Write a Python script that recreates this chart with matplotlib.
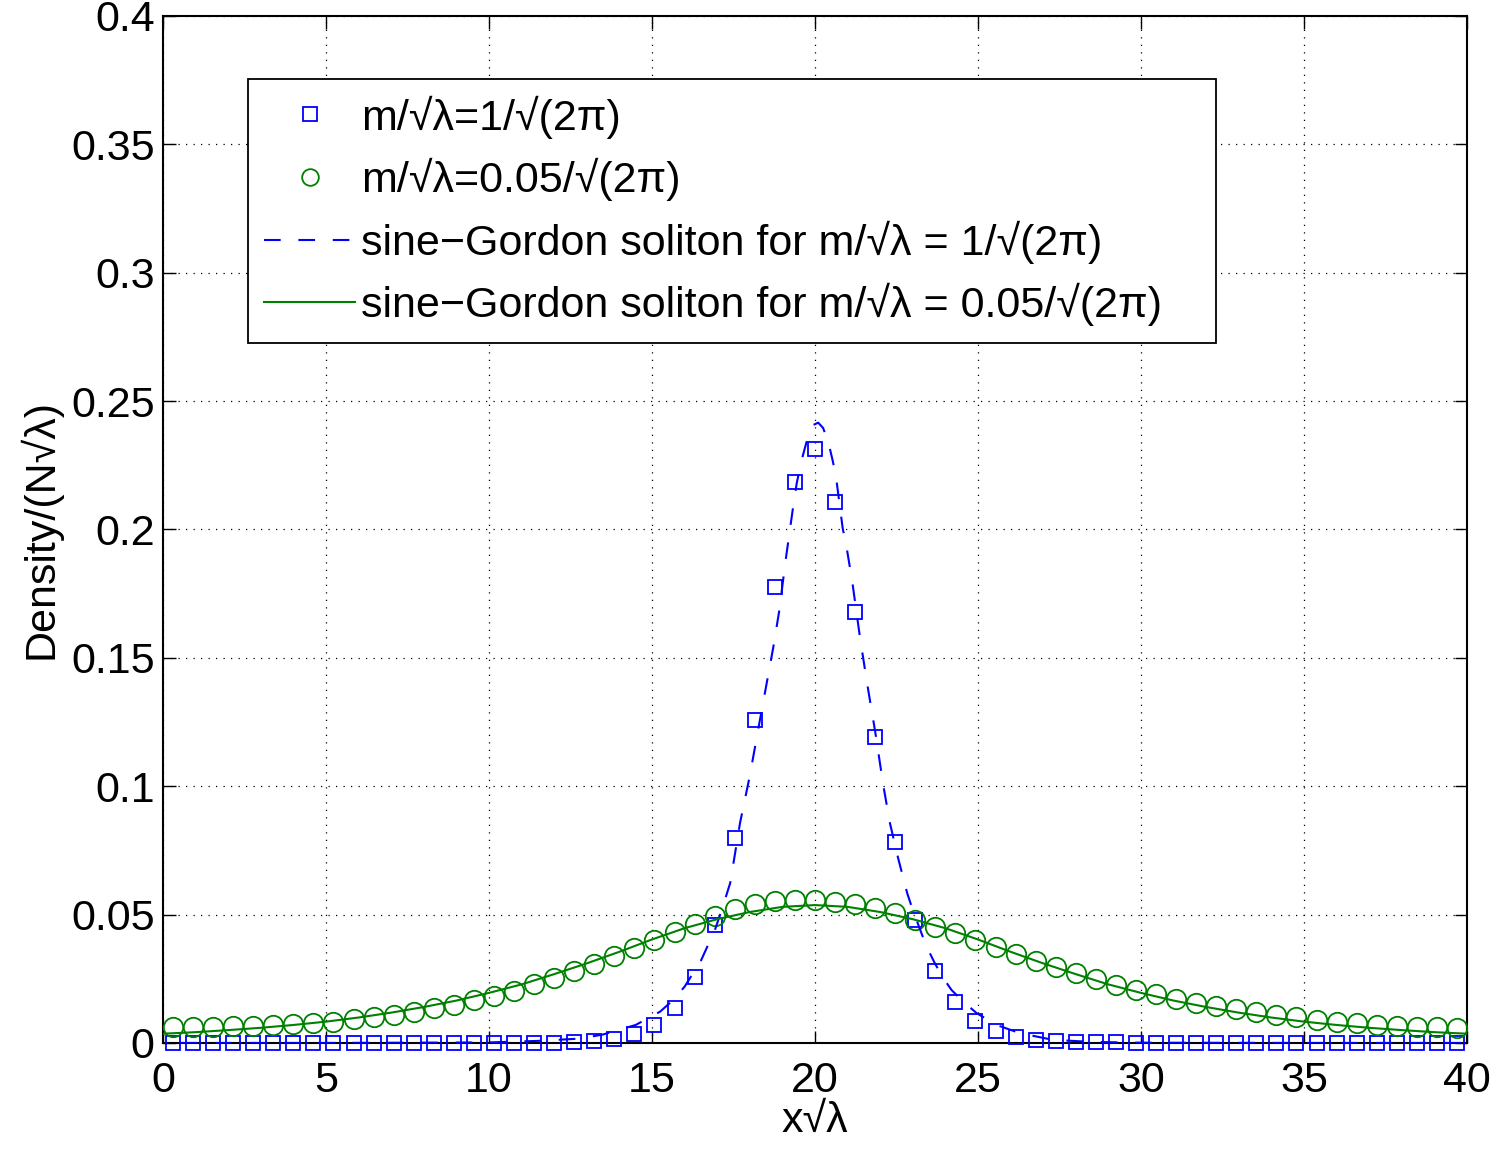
import numpy as np
import matplotlib
matplotlib.use("Agg")
import matplotlib.pyplot as plt

plt.rcParams['font.family'] = ['Liberation Sans', 'DejaVu Sans']
plt.rcParams['axes.unicode_minus'] = False

# lattice sites (65 points on [0, 40])
n_sites = 65
site_x = (np.arange(n_sites) + 0.5) * 40.0 / n_sites

# m/sqrt(lambda) = 1/sqrt(2 pi): lattice density (squares)
dens_strong = [0.0] * 20 + [
    0.0005, 0.0009, 0.0016, 0.0036, 0.0070, 0.0135, 0.0256, 0.0461,
    0.0797, 0.1258, 0.1776, 0.2185, 0.2314, 0.2107, 0.1679, 0.1192,
    0.0781, 0.0480, 0.0282, 0.0158, 0.0085, 0.0046, 0.0023, 0.0012,
    0.0008, 0.0005, 0.0003, 0.0002] + [0.0] * 17

# m/sqrt(lambda) = 0.05/sqrt(2 pi): lattice density (circles)
dens_weak = [
    0.0064, 0.0064, 0.0064, 0.0065, 0.0066, 0.0070, 0.0073, 0.0077,
    0.0083, 0.0092, 0.0100, 0.0109, 0.0122, 0.0135, 0.0148, 0.0167,
    0.0183, 0.0203, 0.0229, 0.0252, 0.0280, 0.0308, 0.0339, 0.0370,
    0.0400, 0.0434, 0.0463, 0.0495, 0.0521, 0.0540, 0.0553, 0.0557,
    0.0557, 0.0550, 0.0540, 0.0525, 0.0505, 0.0479, 0.0453, 0.0427,
    0.0401, 0.0373, 0.0345, 0.0321, 0.0297, 0.0271, 0.0248, 0.0226,
    0.0206, 0.0190, 0.0171, 0.0157, 0.0144, 0.0131, 0.0121, 0.0110,
    0.0100, 0.0090, 0.0083, 0.0077, 0.0070, 0.0066, 0.0064, 0.0061,
    0.0060]

# sine-Gordon soliton, m/sqrt(lambda) = 1/sqrt(2 pi) (dashed)
sg_strong_x = [0, 5, 10, 11.5, 12.8, 13.5, 14.5, 15.25, 15.65, 16.0, 16.5,
               16.93, 17.14, 17.4, 17.7, 18.0, 18.3, 18.72, 18.9, 19.1, 19.31,
               19.44, 19.59, 19.74, 19.95, 20.1, 20.25, 20.41, 20.54, 20.64,
               20.85, 20.97, 21.14, 21.38, 21.6, 21.85, 22.1, 22.3, 22.55,
               22.83, 23.0, 23.4, 23.65, 23.89, 24.19, 24.55, 24.96, 25.57,
               26.29, 27.3, 28.5, 30, 35, 40]
sg_strong_y = [0.0, 0.0, 0.0002, 0.0008, 0.0017, 0.0033, 0.0070, 0.0122,
               0.0167, 0.0219, 0.0320, 0.0440, 0.0518, 0.0623, 0.0856, 0.104,
               0.125, 0.154, 0.168, 0.188, 0.207, 0.218, 0.227, 0.234, 0.2407,
               0.2416, 0.2395, 0.234, 0.227, 0.221, 0.2005, 0.193, 0.180,
               0.158, 0.140, 0.121, 0.100, 0.0856, 0.072, 0.0583, 0.0518,
               0.0382, 0.0317, 0.0261, 0.0206, 0.0161, 0.0116, 0.0070,
               0.0038, 0.0012, 0.0004, 0.0001, 0.0, 0.0]

# sine-Gordon soliton, m/sqrt(lambda) = 0.05/sqrt(2 pi) (solid)
sg_weak_x = list(range(0, 41))
sg_weak_y = [0.0036, 0.0042, 0.0050, 0.0059, 0.0070, 0.0083, 0.0099, 0.0118,
             0.0140, 0.0165, 0.0195, 0.0228, 0.0268, 0.0310, 0.0355, 0.0403,
             0.0447, 0.0482, 0.0510, 0.0530, 0.0537, 0.0530, 0.0510, 0.0482,
             0.0447, 0.0403, 0.0355, 0.0310, 0.0268, 0.0228, 0.0195, 0.0165,
             0.0140, 0.0118, 0.0099, 0.0083, 0.0070, 0.0059, 0.0050, 0.0042,
             0.0036]

labels = ['m/\u221a\u03bb=1/\u221a(2\u03c0)',
          'm/\u221a\u03bb=0.05/\u221a(2\u03c0)',
          'sine\u2212Gordon soliton for m/\u221a\u03bb = 1/\u221a(2\u03c0)',
          'sine\u2212Gordon soliton for m/\u221a\u03bb = 0.05/\u221a(2\u03c0)']

fs = 31
fig = plt.figure(figsize=(15.06, 11.49), dpi=100)
ax = fig.add_axes([0.1082, 0.0923, 0.9741 - 0.1082, 0.9861 - 0.0923])

blue = (0, 0, 1)
green = (0, 0.5, 0)

ax.plot(site_x, dens_strong, 's', mfc='none', mec=blue, ms=10.5, mew=1.3,
        clip_on=False, label=labels[0], zorder=3)
ax.plot(site_x, dens_weak, 'o', mfc='none', mec=green, ms=14, mew=1.3,
        clip_on=False, label=labels[1], zorder=3)
ax.plot(sg_strong_x, sg_strong_y, color=blue, lw=1.5,
        linestyle=(8, (8, 8.5)), label=labels[2], zorder=4)
ax.plot(sg_weak_x, sg_weak_y, color=green, lw=1.5, label=labels[3], zorder=4)

ax.set_xlim(0, 40)
ax.set_ylim(0, 0.4)
ax.set_xticks(range(0, 41, 5))
ax.set_yticks([0, 0.05, 0.1, 0.15, 0.2, 0.25, 0.3, 0.35, 0.4])
ax.set_yticklabels(['0', '0.05', '0.1', '0.15', '0.2', '0.25', '0.3', '0.35', '0.4'])
ax.tick_params(direction='in', length=9, width=1.0, labelsize=fs,
               top=True, right=True)
ax.tick_params(axis='x', pad=13)
ax.tick_params(axis='y', pad=6)
ax.grid(True, color='black', linestyle=(0, (1, 5)), linewidth=0.9)
for sp in ax.spines.values():
    sp.set_linewidth(1.5)

ax.set_xlabel('x\u221a\u03bb', fontsize=fs, labelpad=0)
ax.set_ylabel('Density/(N\u221a\u03bb)', fontsize=fs, labelpad=7)

# legend box spans x = 248..1216 px, top at 79 px
leg = ax.legend(loc='upper left', bbox_to_anchor=(0.0652, 0.9387, 0.7423, 0.0),
                mode='expand', borderaxespad=0, fontsize=fs, fancybox=False,
                edgecolor='black', framealpha=1, handlelength=2.1,
                handletextpad=0.15, labelspacing=0.45, borderpad=0.38,
                numpoints=1)
leg.get_frame().set_linewidth(1.3)
leg.legend_handles[0].set_markersize(10)
leg.legend_handles[1].set_markersize(12)
leg.legend_handles[2].set_linestyle((0, (8, 8.5)))

fig.savefig('out.png', dpi=100)
